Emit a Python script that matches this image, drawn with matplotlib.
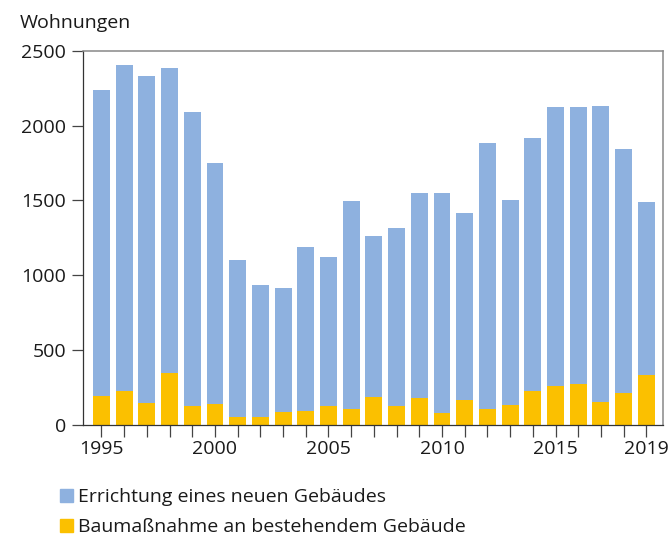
import matplotlib.pyplot as plt
from matplotlib.patches import Patch

plt.rcParams['font.family'] = ['Open Sans', 'DejaVu Sans']

years = list(range(1995, 2020))
totals = [2239, 2406, 2333, 2386, 2092, 1751, 1102, 934, 914, 1189, 1122, 1496, 1262,
          1316, 1550, 1550, 1416, 1884, 1503, 1918, 2125, 2125, 2132, 1844, 1490]
bestand = [192, 225, 145, 346, 127, 140, 51, 51, 87, 94, 127, 105, 185,
           127, 181, 78, 167, 105, 132, 225, 261, 274, 154, 212, 332]
neubau = [t - b for t, b in zip(totals, bestand)]
tick_years = [1995, 2000, 2005, 2010, 2015, 2019]

label_neu = 'Errichtung eines neuen Gebäudes'
label_best = 'Baumaßnahme an bestehendem Gebäude'
c_blue = '#8eb1df'
c_yellow = '#fbc000'
fs = 14

fig = plt.figure(figsize=(6.7, 5.39), dpi=100)
ax = fig.add_axes([0.1243, 0.212, 0.8648, 0.6934])

ax.bar(years, bestand, width=0.745, color=c_yellow)
ax.bar(years, neubau, bottom=bestand, width=0.745, color=c_blue)

ax.set_xlim(1994.2, 2019.72)
ax.set_ylim(0, 2500)
ax.set_yticks([0, 500, 1000, 1500, 2000, 2500])
ax.set_xticks(years)
ax.set_xticklabels([str(y) if y in tick_years else '' for y in years])
ax.tick_params(axis='y', length=8, width=0.9, color='#444', pad=4.5,
               labelsize=fs, labelcolor='#1a1a1a')
ax.tick_params(axis='x', length=8.3, width=0.9, color='#444', pad=3,
               labelsize=fs, labelcolor='#1a1a1a')

for side in ['left', 'bottom']:
    ax.spines[side].set_color('#333')
    ax.spines[side].set_linewidth(0.9)
for side in ['top', 'right']:
    ax.spines[side].set_color('#888')
    ax.spines[side].set_linewidth(1.1)

fig.text(0.03, 0.948, 'Wohnungen', fontsize=fs, color='#1a1a1a', va='baseline')

handles = [Patch(color=c_blue, label=label_neu), Patch(color=c_yellow, label=label_best)]
fig.legend(handles=handles, loc='upper left', bbox_to_anchor=(0.09, 0.094),
           frameon=False, fontsize=fs, handlelength=0.65, handleheight=0.65,
           handletextpad=0.25, labelspacing=0.6, borderaxespad=0, borderpad=0,
           labelcolor='#1a1a1a')

fig.savefig('out.png', dpi=100)
